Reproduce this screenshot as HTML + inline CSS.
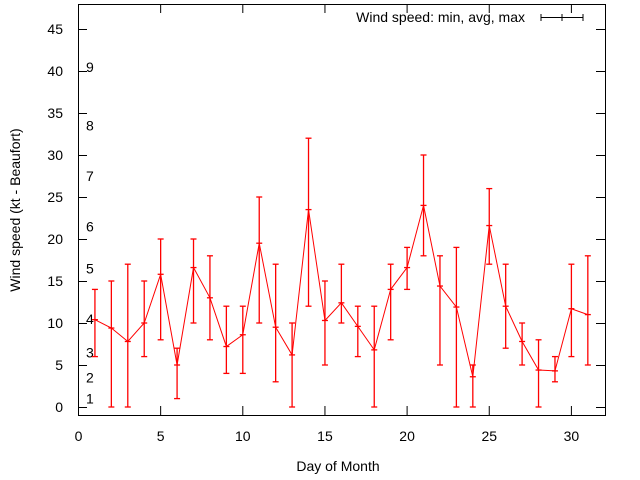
<!DOCTYPE html>
<html><head><meta charset="utf-8"><style>
body{margin:0;background:#fff}
svg{display:block;font-family:"Liberation Sans",Arial,sans-serif;font-size:14px}
</style></head><body>
<svg id="chart" width="640" height="480" viewBox="0 0 640 480">
<rect x="78.5" y="4.5" width="527" height="411" fill="none" stroke="#000"/>
<g id="axes"></g>
<g id="series"></g>
<text transform="translate(20,210) rotate(-90)" text-anchor="middle">Wind speed (kt - Beaufort)</text>
<text x="338" y="471" text-anchor="middle">Day of Month</text>
<g>
<text x="525" y="22" text-anchor="end">Wind speed: min, avg, max</text>
<line x1="541" y1="17.5" x2="583" y2="17.5" stroke="#000"/>
<line x1="541" y1="14" x2="541" y2="21" stroke="#000"/>
<line x1="583" y1="14" x2="583" y2="21" stroke="#000"/>
<line x1="562" y1="14" x2="562" y2="21" stroke="#000"/>
</g>
</svg>
<script>
const days=[1,2,3,4,5,6,7,8,9,10,11,12,13,14,15,16,17,18,19,20,21,22,23,24,25,26,27,28,29,30,31];
const avgs=[10.4,9.4,7.8,10,15.8,5,16.6,13,7.2,8.6,19.5,9.5,6.2,23.5,10.3,12.4,9.6,6.8,14,16.6,24,14.4,11.9,3.6,21.6,12,7.8,4.4,4.3,11.7,11];
const mins=[6,0,0,6,8,1,10,8,4,4,10,3,0,12,5,10,6,0,8,14,18,5,0,0,17,7,5,0,3,6,5];
const maxs=[14,15,17,15,20,7,20,18,12,12,25,17,10,32,15,17,12,12,17,19,30,18,19,5,26,17,10,8,6,17,18];
const xTicks=[0,5,10,15,20,25,30];
const yTicks=[0,5,10,15,20,25,30,35,40,45];
const beaufortLabels=["1","2","3","4","5","6","7","8","9"];
const beaufortValues=[1,3.5,6.5,10.5,16.5,21.5,27.5,33.5,40.5];
const NS="http://www.w3.org/2000/svg";
const X=d=>78.5+d*16.43;
const Y=v=>407-v*8.4;
function mk(tag,attrs,parent){const e=document.createElementNS(NS,tag);for(const k in attrs)e.setAttribute(k,attrs[k]);parent.appendChild(e);return e;}
const axes=document.getElementById('axes'),ser=document.getElementById('series');
xTicks.forEach(t=>{
 const g=mk('g',{},axes);
 
 
 mk('line',{x1:X(t),x2:X(t),y1:415,y2:406,stroke:'#000'},g);
 mk('line',{x1:X(t),x2:X(t),y1:4,y2:13,stroke:'#000'},g);
 const tx=mk('text',{x:X(t),y:441,'text-anchor':'middle'},g);tx.textContent=t;
});
yTicks.forEach(t=>{
 const g=mk('g',{},axes);
 
 
 mk('line',{x1:78,x2:87,y1:Y(t)+.5,y2:Y(t)+.5,stroke:'#000'},g);
 mk('line',{x1:605,x2:596,y1:Y(t)+.5,y2:Y(t)+.5,stroke:'#000'},g);
 const tx=mk('text',{x:63,y:Y(t)+5,'text-anchor':'end'},g);tx.textContent=t;
});
beaufortLabels.forEach((l,i)=>{
 const tx=mk('text',{x:86,y:Y(beaufortValues[i])+5},axes);
 
 
 tx.textContent=l;
});
const pts=days.map((d,i)=>X(d)+','+Y(avgs[i])).join(' ');
const pl=mk('polyline',{points:pts,fill:'none',stroke:'#f00','stroke-width':1},ser);


days.forEach((d,i)=>{
 const g=mk('g',{stroke:'#f00','stroke-width':1.3},ser);
 
 
 const x=X(d);
 mk('line',{x1:x,x2:x,y1:Y(mins[i]),y2:Y(maxs[i])},g);
 mk('line',{x1:x-3,x2:x+3,y1:Y(mins[i]),y2:Y(mins[i])},g);
 mk('line',{x1:x-3,x2:x+3,y1:Y(maxs[i]),y2:Y(maxs[i])},g);
 mk('line',{x1:x-3,x2:x+3,y1:Y(avgs[i]),y2:Y(avgs[i])},g);
});
</script>
</body></html>
